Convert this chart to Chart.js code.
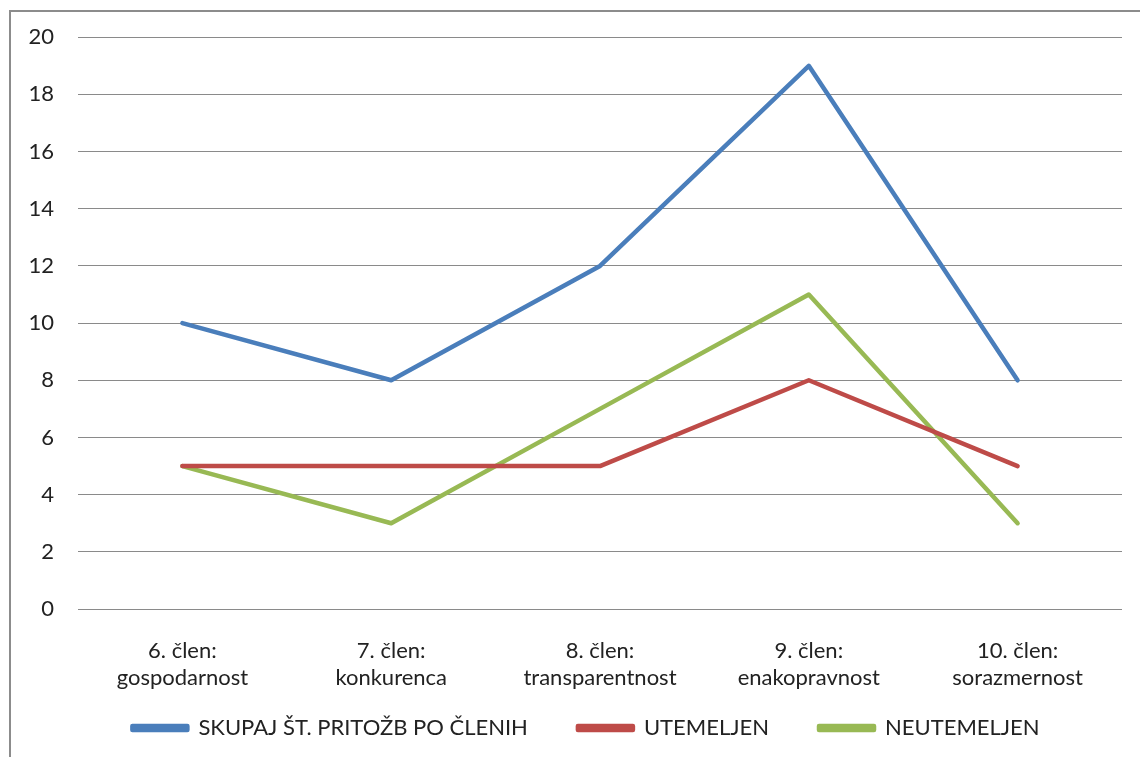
<!DOCTYPE html>
<html>
<head>
<meta charset="utf-8">
<script src="https://cdn.jsdelivr.net/npm/chart.js@4.4.1/dist/chart.umd.min.js"></script>
<style>
  html, body { margin: 0; padding: 0; background: #fff; overflow: hidden; }
  #frame { position: absolute; left: 9px; top: 10px; width: 1200px; height: 800px;
           border: 2px solid #8c8c8c; box-sizing: border-box; }
  #wrap { position: absolute; left: 0; top: 0; width: 1140px; height: 757px; }
</style>
</head>
<body>
<div id="frame"></div>
<div id="wrap"><canvas id="c" width="1140" height="757"></canvas></div>
<script>
const categories = [
  ['6. člen:', 'gospodarnost'],
  ['7. člen:', 'konkurenca'],
  ['8. člen:', 'transparentnost'],
  ['9. člen:', 'enakopravnost'],
  ['10. člen:', 'sorazmernost']
];
const seriesNames = ['SKUPAJ ŠT. PRITOŽB PO ČLENIH', 'UTEMELJEN', 'NEUTEMELJEN'];
const skupaj = [10, 8, 12, 19, 8];
const utemeljen = [5, 5, 5, 8, 5];
const neutemeljen = [5, 3, 7, 11, 3];
const yTicks = [0, 2, 4, 6, 8, 10, 12, 14, 16, 18, 20];

const colors = ['#4a7ebb', '#be4b48', '#98b954'];
const FONT = 'Lato, "Open Sans", sans-serif';

// Axis boxes are kept compact for layout; let their labels draw past the box edge.
const noLabelClip = (s) => { s._computeLabelArea = () => undefined; };

new Chart(document.getElementById('c'), {
  type: 'line',
  data: {
    labels: categories,
    datasets: [skupaj, utemeljen, neutemeljen].map((d, i) => ({
      label: seriesNames[i],
      data: d,
      borderColor: colors[i],
      backgroundColor: colors[i],
      borderWidth: 4.5,
      borderCapStyle: 'round',
      borderJoinStyle: 'round',
      pointRadius: 0,
      tension: 0
    }))
  },
  options: {
    responsive: false,
    animation: false,
    layout: { padding: { left: 50, right: 18, top: 22, bottom: 8 } },
    scales: {
      x: {
        offset: true,
        afterFit: (s) => { s.height = 58; noLabelClip(s); },
        grid: { display: false },
        border: { display: false },
        ticks: { color: '#222', font: { family: FONT, size: 22 }, maxRotation: 0, padding: 21 }
      },
      y: {
        min: 0, max: 20,
        afterBuildTicks: (s) => { s.ticks = yTicks.map(v => ({ value: v })); },
        afterFit: (s) => { s.width = 28; noLabelClip(s); },
        grid: { color: '#8a8a8a', lineWidth: 1, drawTicks: false },
        border: { display: false },
        ticks: { color: '#222', font: { family: FONT, size: 22 }, padding: 24 }
      }
    },
    plugins: {
      legend: {
        position: 'bottom',
        labels: {
          color: '#222',
          font: { family: FONT, size: 22 },
          boxWidth: 55,
          boxHeight: 4,
          padding: 50
        }
      },
      tooltip: { enabled: false }
    }
  }
});
</script>
</body>
</html>
